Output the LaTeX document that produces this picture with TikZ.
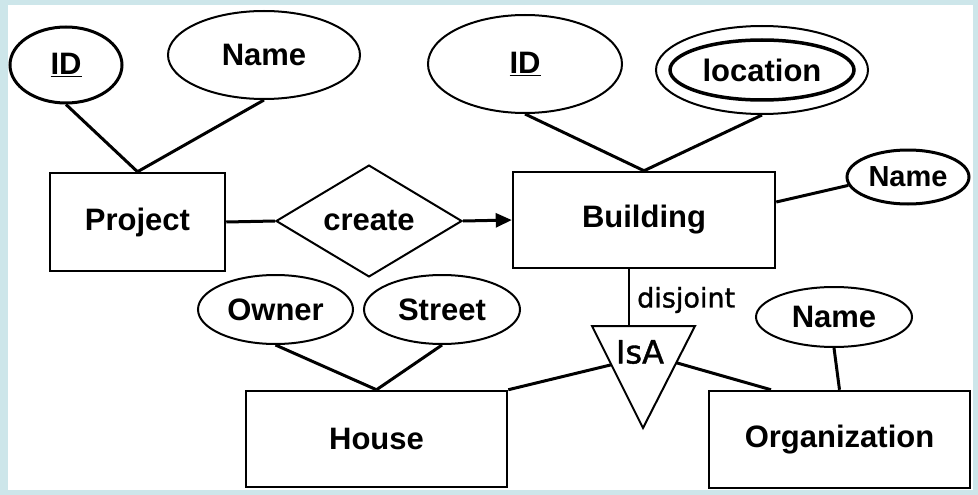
\documentclass[tikz,border=0pt]{standalone}
\usepackage{fontspec}
\setmainfont{Liberation Sans}
\newfontfamily\dejavu[FakeBold=1.2]{DejaVu Sans}
\usetikzlibrary{shapes.geometric,arrows.meta,calc}
\definecolor{framecol}{HTML}{CDE6EA}

\begin{document}
\begin{tikzpicture}[x=1pt,y=-1pt,
    entity/.style={draw,rectangle,line width=2.5pt,inner sep=0pt,font=\fontsize{31}{31}\selectfont\bfseries},
    attr/.style={draw,ellipse,line width=2pt,inner sep=0pt,font=\fontsize{31}{31}\selectfont\bfseries},
    keyattr/.style={attr,line width=3pt},
    relation/.style={draw,diamond,line width=2pt,inner sep=0pt,font=\fontsize{31}{31}\selectfont\bfseries},
    link/.style={line width=3pt}]
            \useasboundingbox (0,0) rectangle (978,495);
            \fill[framecol] (0,0) rectangle (978,495);
            \fill[white] (8,5) rectangle (973,490);

            \node[entity,minimum width=175pt,minimum height=98pt] (project) at (137.5,222) {Project};
            \node[relation,minimum width=186pt,minimum height=100pt] (create) at (369,221) {create};
            \node[entity,minimum width=262pt,minimum height=96pt] (building) at (644,220) {Building};
            \node[entity,minimum width=261pt,minimum height=96pt] (house) at (376.5,439) {House};
            \node[entity,minimum width=261pt,minimum height=97pt] (org) at (839.5,439.5) {Organization};

            \node[keyattr,minimum width=112pt,minimum height=76pt] (pid) at (66,65) {\underline{ID}};
            \node[attr,minimum width=192pt,minimum height=88pt] (pname) at (264,55) {Name};
            \node[attr,minimum width=194pt,minimum height=98pt] (bid) at (525,64) {\underline{ID}};
            \node[attr,minimum width=212pt,minimum height=88pt] (blocout) at (762,70) {};
            \node[attr,line width=3.5pt,minimum width=184pt,minimum height=60pt] (bloc) at (762,70) {location};
            \node[keyattr,minimum width=122pt,minimum height=54pt,font=\fontsize{29}{29}\selectfont\bfseries] (bname) at (908,177) {Name};
            \node[attr,minimum width=155pt,minimum height=69pt] (howner) at (275.5,309.5) {Owner};
            \node[attr,minimum width=156pt,minimum height=69pt] (hstreet) at (442,309.5) {Street};
            \node[attr,minimum width=156pt,minimum height=60pt] (oname) at (834,317) {Name};

            \coordinate (isaL) at (592,326);
            \coordinate (isaR) at (695,326);
            \coordinate (isaB) at (643,428);
            \coordinate (isaTop) at (629,326);
            \draw[line width=2pt] (isaL) -- (isaR) -- (isaB) -- cycle;
            \node[font=\dejavu\fontsize{32}{32}\selectfont,inner sep=0pt] (isa) at (640,352) {IsA};
            \node[anchor=west,font=\dejavu\fontsize{27}{27}\selectfont,inner sep=0pt] (disj) at (637,300) {disjoint};

            \draw[link] (pid.south) -- (project.north);
            \draw[link] (pname.south) -- (project.north);
            \draw[link] (project.east) -- (create.west);
            \draw[link,-{Triangle[length=16pt,width=14pt]}] (create.east) -- (building.west);
            \draw[link] (bid.south) -- (building.north);
            \draw[link] (blocout.south) -- (building.north);
            \draw[link] ($(building.east)+(0,-18)$) -- (bname.188);
            \draw[link] (howner.south) -- (house.north);
            \draw[link] (hstreet.south) -- (house.north);
            \draw[line width=2.5pt] (building.south -| isaTop) -- (isaTop);
            \draw[link] (house.north east) -- ($(isaL)!0.38!(isaB)$);
            \draw[link] ($(isaR)!0.36!(isaB)$) -- ($(org.north west)!0.24!(org.north east)$);
            \draw[link] (oname.south) -- (org.north);
            %\draw[link] (isa) -- (org);

        \end{tikzpicture}
\end{document}
